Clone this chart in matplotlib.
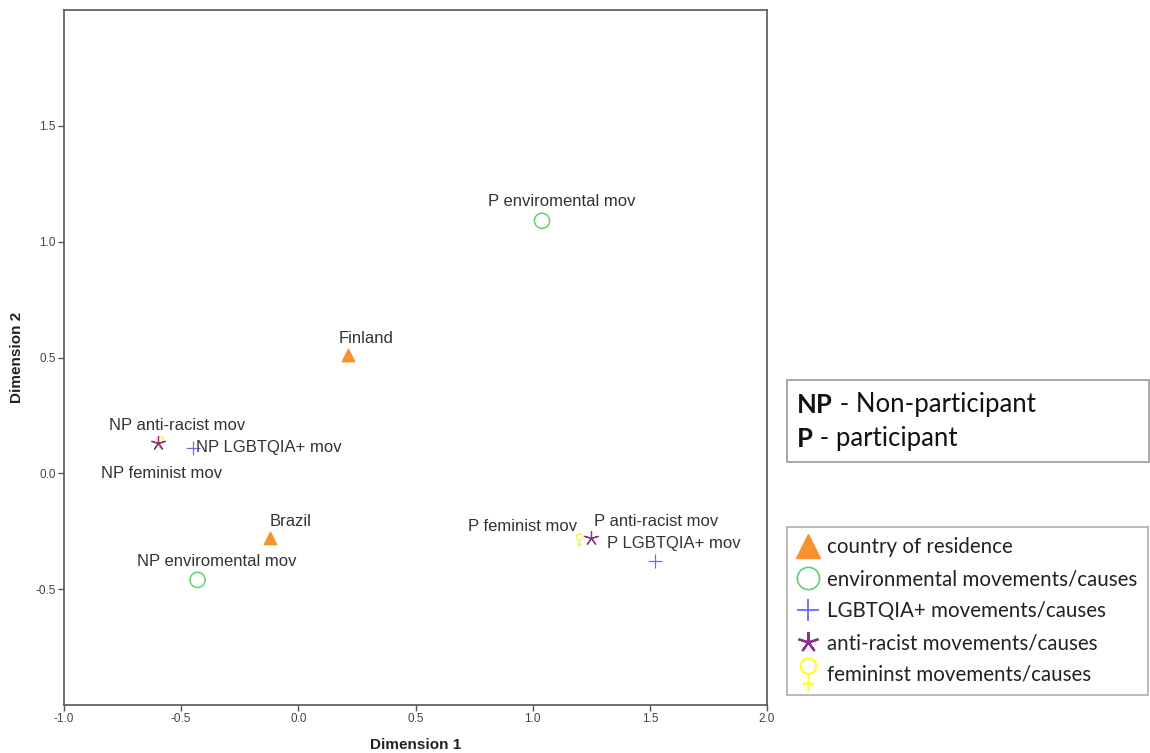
import matplotlib
matplotlib.use('Agg')
import matplotlib.pyplot as plt
from matplotlib.path import Path
from matplotlib.lines import Line2D
from matplotlib.patches import Rectangle
from matplotlib.text import Annotation

# category points (dimension 1, dimension 2)
COUNTRY_LABELS = ['Finland', 'Brazil']
COUNTRY_X = [0.21, -0.12]
COUNTRY_Y = [0.51, -0.28]

ENV_LABELS = ['P enviromental mov', 'NP enviromental mov']
ENV_X = [1.04, -0.43]
ENV_Y = [1.09, -0.46]

LGBT_LABELS = ['NP LGBTQIA+ mov', 'P LGBTQIA+ mov']
LGBT_X = [-0.45, 1.52]
LGBT_Y = [0.11, -0.38]

RACE_LABELS = ['NP anti-racist mov', 'P anti-racist mov']
RACE_X = [-0.60, 1.25]
RACE_Y = [0.13, -0.28]

FEM_LABELS = ['NP feminist mov', 'P feminist mov']
FEM_X = [-0.59, 1.20]
FEM_Y = [0.13, -0.29]

LEGEND_LABELS = ['country of residence', 'environmental movements/causes',
                 'LGBTQIA+ movements/causes', 'anti-racist movements/causes',
                 'femininst movements/causes']

X_TICKS = [-1.0, -0.5, 0.0, 0.5, 1.0, 1.5, 2.0]
Y_TICKS = [-0.5, 0.0, 0.5, 1.0, 1.5]

# label offsets in points (style only)
LABEL_OFFSETS = {
    'Finland': (13, 12, 'center'), 'Brazil': (15, 12, 'center'),
    'P enviromental mov': (14, 14, 'center'), 'NP enviromental mov': (14, 13, 'center'),
    'NP LGBTQIA+ mov': (2, 0, 'left'), 'P LGBTQIA+ mov': (14, 13, 'center'),
    'NP anti-racist mov': (14, 13, 'center'), 'P anti-racist mov': (2, 12, 'left'),
    'NP feminist mov': (1, -22, 'center'), 'P feminist mov': (-2, 10, 'right'),
}

ORANGE = '#F7922E'
GREEN = '#62D06F'
BLUE = '#6A6AF7'
PURPLE = '#8E2F8E'
YELLOW = '#F2EE55'
YELLOW_LEG = '#FFFF22'

venus = Path.make_compound_path(
    Path.circle((0, 0.45), 0.42),
    Path([(0, 0.03), (0, -0.9)], [Path.MOVETO, Path.LINETO]),
    Path([(-0.3, -0.5), (0.3, -0.5)], [Path.MOVETO, Path.LINETO]),
)

TICK_FONT = ['Liberation Sans Narrow', 'Liberation Sans']

fig = plt.figure(figsize=(11.5, 7.53), dpi=100)
ax = fig.add_axes([64 / 1150, 48 / 753, 703 / 1150, 695 / 753])

ax.scatter(COUNTRY_X, COUNTRY_Y, marker='^', s=80, color=ORANGE, zorder=3)
ax.scatter(ENV_X, ENV_Y, marker='o', s=120, facecolors='none', edgecolors=GREEN, linewidths=1.1, zorder=3)
ax.scatter(LGBT_X, LGBT_Y, marker='+', s=100, color=BLUE, linewidths=0.9, zorder=3)
ax.scatter(FEM_X, FEM_Y, marker=venus, s=100, facecolors='none', edgecolors=YELLOW, linewidths=1.0, zorder=3)
ax.scatter(RACE_X, RACE_Y, marker=(5, 2, 0), s=100, color=PURPLE, linewidths=0.9, zorder=4)

for labels, xs, ys in [(COUNTRY_LABELS, COUNTRY_X, COUNTRY_Y), (ENV_LABELS, ENV_X, ENV_Y),
                       (LGBT_LABELS, LGBT_X, LGBT_Y), (RACE_LABELS, RACE_X, RACE_Y),
                       (FEM_LABELS, FEM_X, FEM_Y)]:
    for lab, x, y in zip(labels, xs, ys):
        dx, dy, ha = LABEL_OFFSETS[lab]
        ax.annotate(lab, (x, y), xytext=(dx, dy), textcoords='offset points',
                    ha=ha, va='center', fontsize=12, family='Liberation Sans', color='#333333')

ax.set_xlim(-1.0, 2.0)
ax.set_ylim(-1.0, 2.0)
ax.set_xticks(X_TICKS)
ax.set_yticks(Y_TICKS)
ax.set_xticklabels([f'{t:.1f}' for t in X_TICKS], family=TICK_FONT, fontsize=8.5, color='#444444')
ax.set_yticklabels([f'{t:.1f}' for t in Y_TICKS], family=TICK_FONT, fontsize=8.5, color='#444444')
ax.tick_params(direction='out', length=4, width=1, color='#555555', pad=2)
for sp in ax.spines.values():
    sp.set_color('#555555')
    sp.set_linewidth(1.2)

ax.set_xlabel('Dimension 1', fontsize=11, fontweight='bold', family=TICK_FONT, color='#222222', labelpad=9)
ax.set_ylabel('Dimension 2', fontsize=11, fontweight='bold', family=TICK_FONT, color='#222222', labelpad=8)

# NP / P note box
fig.patches.append(Rectangle((787 / 1150, 291 / 753), 362 / 1150, 82 / 753,
                             transform=fig.transFigure, facecolor='white',
                             edgecolor='#999999', linewidth=1.2))
for (bold, rest), yb in [(('NP', ' - Non-participant'), 413), (('P', ' - participant'), 447)]:
    t = fig.text(797 / 1150, (753 - yb) / 753, bold, fontsize=18.5, fontweight='bold',
                 family='Lato', va='baseline', color='#111111')
    ann = Annotation(rest, xy=(1, 0), xycoords=t, va='bottom', ha='left',
                     fontsize=18.5, family='Lato', color='#111111')
    fig.add_artist(ann)

handles = [
    Line2D([], [], linestyle='none', marker='^', markersize=17, color=ORANGE),
    Line2D([], [], linestyle='none', marker='o', markersize=16, markerfacecolor='none',
           markeredgecolor=GREEN, markeredgewidth=1.2),
    Line2D([], [], linestyle='none', marker='+', markersize=16, color=BLUE, markeredgewidth=1.3),
    Line2D([], [], linestyle='none', marker=(5, 2, 0), markersize=15, color=PURPLE, markeredgewidth=1.6),
    Line2D([], [], linestyle='none', marker=venus, markersize=24, markerfacecolor='none',
           markeredgecolor=YELLOW_LEG, markeredgewidth=1.6),
]
leg = fig.legend(handles, LEGEND_LABELS, loc='upper left', bbox_to_anchor=(787 / 1150, 226 / 753),
                 prop={'family': 'Lato', 'size': 14.8}, frameon=True, fancybox=False,
                 edgecolor='#999999', borderaxespad=0, borderpad=0.5, labelspacing=0.58,
                 handlelength=1.0, handletextpad=0.45)
leg.get_frame().set_linewidth(1.2)
for txt in leg.get_texts():
    txt.set_color('#222222')

fig.savefig('out.png', dpi=100)
